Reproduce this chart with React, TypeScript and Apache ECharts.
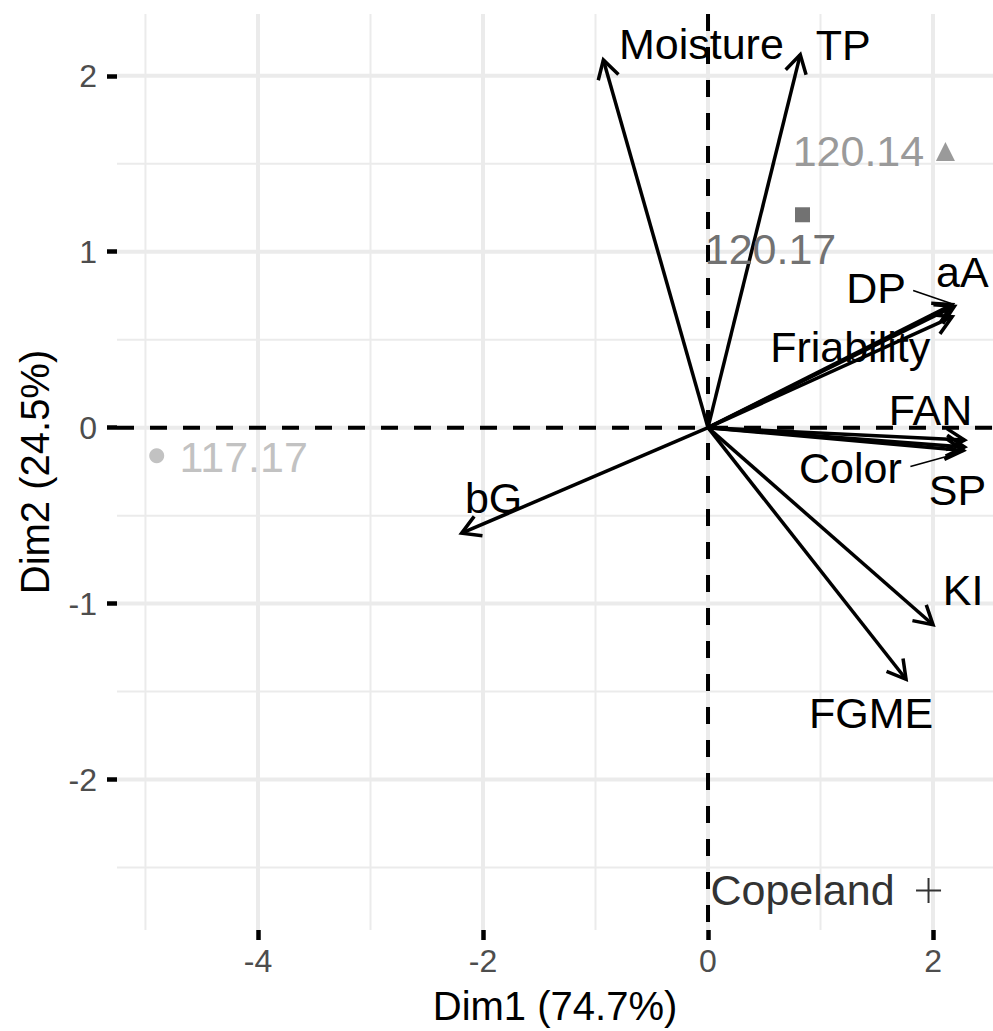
import React, { useEffect, useRef } from "react";
import * as echarts from "echarts";

const FONT = '"Liberation Sans", Arial, Helvetica, sans-serif';

// ---- data ----
const variables = ["Moisture", "TP", "aA", "DP", "Friability", "FAN", "Color", "SP", "KI", "FGME", "bG"];
const varDim1 = [-0.93, 0.82, 2.19, 2.17, 2.17, 2.28, 2.27, 2.28, 2.0, 1.76, -2.19];
const varDim2 = [2.09, 2.12, 0.69, 0.7, 0.63, -0.07, -0.13, -0.11, -1.12, -1.43, -0.6];

const individuals = ["117.17", "120.14", "120.17", "Copeland"];
const indDim1 = [-4.9, 2.11, 0.84, 1.96];
const indDim2 = [-0.16, 1.57, 1.21, -2.63];

const xTicks = [-4, -2, 0, 2];
const yTicks = [-2, -1, 0, 1, 2];
const xMinor = [-5, -3, -1, 1];
const yMinor = [-2.5, -1.5, -0.5, 0.5, 1.5];

const xTitle = "Dim1 (74.7%)";
const yTitle = "Dim2 (24.5%)";

// ---- layout / style (not data) ----
const X_MIN = -5.253;
const X_MAX = 2.533;
const Y_MIN = -2.855;
const Y_MAX = 2.351;

// label offsets (px) from arrow tip, repel-like placement
const varLabelOffsets: number[][] = [
  [98, -16], [43, -10], [8, -34], [-76, -16], [-102, 30], [-34, -30],
  [-113, 17], [-7, 43], [30, -35], [-35, 34], [32, -35],
];
// connector segments (px, relative to tip): [x1, y1, x2, y2]
const varConnectors: (number[] | null)[] = [
  null, null, null, [-39, -14, -1, -1], null, null, [-53, 16, -6, 3], null, null, null, null,
];

const indSymbols = [
  "circle",
  "triangle",
  "rect",
  "path://M-1,-0.08H1V0.08H-1Z M-0.08,-1H0.08V-0.08H-0.08Z M-0.08,0.08H0.08V1H-0.08Z",
];
const indSymbolSizes = [15, 19, 15, 25];
const indColors = ["#c2c2c2", "#9a9a9a", "#727272", "#333333"];
const indLabelOffsets: number[][] = [[87, 1], [-87, 0], [-32, 34], [-126, 0]];

export default function App() {
  const ref = useRef<HTMLDivElement>(null);

  useEffect(() => {
    document.body.style.margin = "0";
    if (!ref.current) return;
    const chart = echarts.init(ref.current, null, { renderer: "svg" });

    // grid lines data: [value, orientation(0=vertical,1=horizontal), kind(0 minor,1 major,2 dashed)]
    const gridData: number[][] = [];
    xMinor.forEach((v) => gridData.push([v, 0, 0]));
    yMinor.forEach((v) => gridData.push([v, 1, 0]));
    xTicks.forEach((v) => gridData.push([v, 0, 1]));
    yTicks.forEach((v) => gridData.push([v, 1, 1]));
    gridData.push([0, 0, 2]);
    gridData.push([0, 1, 2]);

    const arrowData = variables.map((n, i) => ({ name: n, value: [varDim1[i], varDim2[i]] }));

    const option: any = {
      animation: false,
      backgroundColor: "#ffffff",
      grid: { left: 117, right: 0, top: 14, bottom: 98, containLabel: false },
      xAxis: {
        type: "value",
        min: X_MIN,
        max: X_MAX,
        name: xTitle,
        nameLocation: "middle",
        nameGap: 56,
        nameTextStyle: { fontFamily: FONT, fontSize: 40, color: "#000" },
        axisLine: { show: false, onZero: false },
        axisTick: { show: true, customValues: xTicks, length: 10, lineStyle: { color: "#000", width: 4.5 } },
        axisLabel: { customValues: xTicks, fontFamily: FONT, fontSize: 32, color: "#4d4d4d", margin: 15 },
        splitLine: { show: false },
      },
      yAxis: {
        type: "value",
        min: Y_MIN,
        max: Y_MAX,
        name: yTitle,
        nameLocation: "middle",
        nameGap: 62,
        nameRotate: 90,
        nameTextStyle: { fontFamily: FONT, fontSize: 40, color: "#000" },
        axisLine: { show: false, onZero: false },
        axisTick: { show: true, customValues: yTicks, length: 10, lineStyle: { color: "#000", width: 4.5 } },
        axisLabel: { customValues: yTicks, fontFamily: FONT, fontSize: 32, color: "#4d4d4d", margin: 20 },
        splitLine: { show: false },
      },
      series: [
        {
          type: "custom",
          name: "grid",
          z: 0,
          silent: true,
          clip: false,
          data: gridData,
          renderItem: (params: any, api: any) => {
            const v = api.value(0);
            const orient = api.value(1);
            const kind = api.value(2);
            const cs = params.coordSys;
            const style =
              kind === 2
                ? { stroke: "#000", lineWidth: 4, lineDash: [17, 16] }
                : { stroke: "#ebebeb", lineWidth: kind === 1 ? 4 : 2 };
            if (orient === 0) {
              const x = api.coord([v, 0])[0];
              return { type: "line", z2: kind === 2 ? 5 : kind, shape: { x1: x, y1: cs.y, x2: x, y2: cs.y + cs.height }, style };
            }
            const y = api.coord([0, v])[1];
            return { type: "line", z2: kind === 2 ? 5 : kind, shape: { x1: cs.x, y1: y, x2: cs.x + cs.width, y2: y }, style };
          },
        },
        {
          type: "custom",
          name: "variables",
          z: 3,
          silent: true,
          clip: false,
          data: arrowData,
          renderItem: (params: any, api: any) => {
            const i = params.dataIndex;
            const o = api.coord([0, 0]);
            const t = api.coord([api.value(0), api.value(1)]);
            const ang = Math.atan2(t[1] - o[1], t[0] - o[0]);
            const L = 21;
            const a = Math.PI / 6;
            const p1 = [t[0] - L * Math.cos(ang - a), t[1] - L * Math.sin(ang - a)];
            const p2 = [t[0] - L * Math.cos(ang + a), t[1] - L * Math.sin(ang + a)];
            const off = varLabelOffsets[i];
            const children: any[] = [
              { type: "line", shape: { x1: o[0], y1: o[1], x2: t[0], y2: t[1] }, style: { stroke: "#000", lineWidth: 3.5 } },
              { type: "polyline", shape: { points: [p1, t, p2] }, style: { stroke: "#000", lineWidth: 3.5, fill: null } },
              {
                type: "text",
                x: t[0] + off[0],
                y: t[1] + off[1],
                style: {
                  text: variables[i],
                  fontFamily: FONT,
                  fontSize: 43,
                  fill: "#000",
                  align: "center",
                  verticalAlign: "middle",
                },
              },
            ];
            const c = varConnectors[i];
            if (c) {
              children.push({
                type: "line",
                shape: { x1: t[0] + c[0], y1: t[1] + c[1], x2: t[0] + c[2], y2: t[1] + c[3] },
                style: { stroke: "#000", lineWidth: 1.5 },
              });
            }
            return { type: "group", children };
          },
        },
        {
          type: "scatter",
          name: "individuals",
          z: 4,
          silent: true,
          data: individuals.map((n, i) => ({
            name: n,
            value: [indDim1[i], indDim2[i]],
            symbol: indSymbols[i],
            symbolSize: indSymbolSizes[i],
            itemStyle: { color: indColors[i], opacity: 1 },
            label: {
              show: true,
              formatter: n,
              position: "inside",
              offset: indLabelOffsets[i],
              fontFamily: FONT,
              fontSize: 43,
              color: indColors[i],
              opacity: 1,
              align: "center",
              verticalAlign: "middle",
            },
          })),
        },
      ],
    };

    chart.setOption(option);
    return () => chart.dispose();
  }, []);

  return <div ref={ref} style={{ width: 993, height: 1031 }} />;
}
